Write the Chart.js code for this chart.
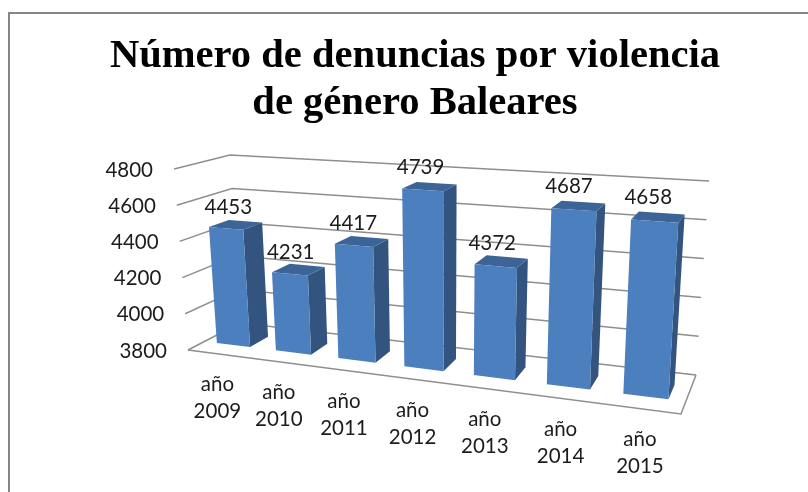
<!DOCTYPE html>
<html>
<head>
<meta charset="utf-8">
<title>Denuncias Baleares</title>
<script src="https://cdn.jsdelivr.net/npm/chart.js@4"></script>
<style>
  html, body { margin: 0; padding: 0; background: #fff; }
  #marco { position: absolute; left: 8px; top: 12px; width: 800px; height: 480px; border-top: 2px solid #868686; border-left: 2px solid #868686; box-sizing: border-box; }
  #grafica { position: absolute; left: 0; top: 0; }
</style>
</head>
<body>
<div id="marco"></div>
<canvas id="grafica" width="808" height="492"></canvas>
<script>
const categorias = ['año 2009', 'año 2010', 'año 2011', 'año 2012', 'año 2013', 'año 2014', 'año 2015'];
const denuncias = [4453, 4231, 4417, 4739, 4372, 4687, 4658];
const titulo = ['Número de denuncias por violencia', 'de género Baleares'];
const ejeMin = 3800;
const ejeMax = 4800;
const ejePaso = 200;

// esquinas de la caja 3D en pixeles: f=frente, b=fondo, l=izq, r=der, 0=suelo, 1=techo
const caja = {
    fl0: [188, 350], fl1: [174, 169], fr0: [681, 414], fr1: [693, 201],
    bl0: [240, 323], bl1: [230, 155], br0: [696, 375], br1: [709, 181]
};
const fondoBarra = 0.32;
const finBarra = 0.69;

function mezcla(a, b, t) {
    return [a[0] + (b[0] - a[0]) * t, a[1] + (b[1] - a[1]) * t];
}

// u a lo ancho, v en altura, d en profundidad
function proyecta(u, v, d) {
    const w = 0.822 * u + 0.178 * u * u;
    const frente = mezcla(mezcla(caja.fl0, caja.fr0, w), mezcla(caja.fl1, caja.fr1, w), v);
    const atras = mezcla(mezcla(caja.bl0, caja.br0, w), mezcla(caja.bl1, caja.br1, w), v);
    return mezcla(frente, atras, d);
}

function linea(ctx, puntos, color, ancho) {
    ctx.beginPath();
    puntos.forEach((p, i) => i ? ctx.lineTo(p[0], p[1]) : ctx.moveTo(p[0], p[1]));
    ctx.strokeStyle = color;
    ctx.lineWidth = ancho;
    ctx.stroke();
}

function cara(ctx, puntos, color) {
    ctx.beginPath();
    puntos.forEach((p, i) => i ? ctx.lineTo(p[0], p[1]) : ctx.moveTo(p[0], p[1]));
    ctx.closePath();
    ctx.fillStyle = color;
    ctx.fill();
}

const barras3d = {
    id: 'barras3d',
    beforeDatasetsDraw(chart) {
        const ctx = chart.ctx;
        const area = chart.chartArea;
        const y = chart.scales.y;
        const x = chart.scales.x;
        const altura = valor => (y.bottom - y.getPixelForValue(valor)) / (y.bottom - y.top);
        const ancho = px => (px - area.left) / (area.right - area.left);

        ctx.save();
        // paredes y suelo
        y.ticks.forEach(t => {
            const v = altura(t.value);
            linea(ctx, [proyecta(0, v, 0), proyecta(0, v, 1), proyecta(1, v, 1)], '#8e8e8e', 1.5);
        });
        linea(ctx, [proyecta(0, 0, 0), proyecta(1, 0, 0), proyecta(1, 0, 1)], '#8e8e8e', 1.5);

        // barras
        const barras = chart.getDatasetMeta(0).data;
        barras.forEach((b, i) => {
            const u0 = ancho(b.x - b.width / 2);
            const u1 = ancho(b.x + b.width / 2);
            const v = altura(denuncias[i]);
            const a = proyecta(u0, 0, fondoBarra), b0 = proyecta(u1, 0, fondoBarra);
            const c = proyecta(u1, v, fondoBarra), e = proyecta(u0, v, fondoBarra);
            const f = proyecta(u1, 0, finBarra), g = proyecta(u1, v, finBarra), h = proyecta(u0, v, finBarra);
            cara(ctx, [b0, f, g, c], '#33547e');
            cara(ctx, [e, c, g, h], '#3c6496');
            cara(ctx, [a, b0, c, e], '#4c7fbd');
        });

        // textos
        ctx.fillStyle = '#1c1c1c';
        ctx.font = '20.5px Lato';
        ctx.textAlign = 'center';
        ctx.textBaseline = 'middle';
        barras.forEach((b, i) => {
            const u = ancho(b.x);
            const p = proyecta(u, altura(denuncias[i]), fondoBarra);
            ctx.fillText(String(denuncias[i]), p[0] + 3 - 10 * u, p[1] - 21 - 3 * u);
            const s = proyecta(ancho(x.getPixelForValue(i)), 0, 0);
            const partes = categorias[i].split(' ');
            ctx.fillText(partes[0], s[0], s[1] + 31);
            ctx.fillText(partes[1], s[0], s[1] + 58);
        });
        ctx.textAlign = 'right';
        y.ticks.forEach(t => {
            const p = proyecta(0, altura(t.value), 0);
            ctx.fillText(String(t.value), p[0] - 21, p[1] + 1);
        });
        ctx.restore();
        return false;
    }
};

new Chart(document.getElementById('grafica'), {
    type: 'bar',
    data: {
        labels: categorias,
        datasets: [{ data: denuncias, backgroundColor: '#4c7fbd', barPercentage: 0.57, categoryPercentage: 1 }]
    },
    options: {
        responsive: false,
        animation: false,
        layout: { padding: { left: 22, top: 23, bottom: 100 } },
        plugins: {
            legend: { display: false },
            tooltip: { enabled: false },
            title: {
                display: true,
                text: titulo,
                color: '#000',
                font: { family: 'Liberation Serif', size: 40.6, weight: 'bold', lineHeight: 1.157 }
            }
        },
        scales: {
            x: { ticks: { display: false }, grid: { display: false }, border: { display: false } },
            y: {
                min: ejeMin,
                max: ejeMax,
                ticks: { display: false, stepSize: ejePaso },
                grid: { display: false },
                border: { display: false }
            }
        }
    },
    plugins: [barras3d]
});
</script>
</body>
</html>
